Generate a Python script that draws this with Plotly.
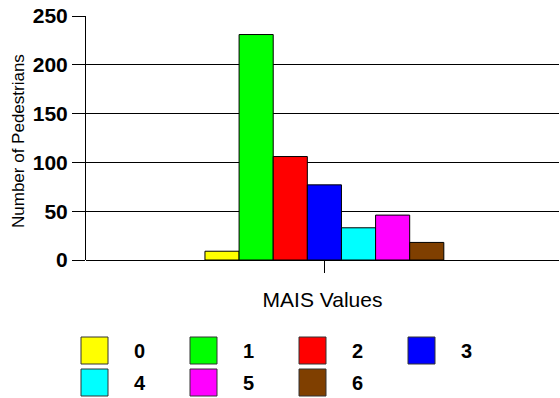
import plotly.graph_objects as go

# MAIS injury severity counts for pedestrians
mais_levels = ["0", "1", "2", "3", "4", "5", "6"]
pedestrian_counts = [9, 231, 106, 77, 33, 46, 18]
level_colors = ["#FFFF00", "#00FF00", "#FF0000", "#0000FF", "#00FFFF", "#FF00FF", "#7F3F00"]
group_label = ["MAIS"]
y_ticks = [0, 50, 100, 150, 200, 250]

FONT = "Liberation Sans, Arial, sans-serif"
W, H = 560, 398
M_L, M_R, M_T, M_B = 86, 1, 16, 138
PW, PH = W - M_L - M_R, H - M_T - M_B

fig = go.Figure()
for level, count, color in zip(mais_levels, pedestrian_counts, level_colors):
    fig.add_trace(go.Bar(
        x=group_label, y=[count], name=level,
        marker=dict(color=color, line=dict(color="black", width=1)),
        showlegend=False,
    ))


def px_to_paper(px, py):
    return (px - M_L) / PW, (H - M_B - py) / PH


# legend block: colour squares with bold labels, four per row
shapes, annotations = [], []
for i, (level, color) in enumerate(zip(mais_levels, level_colors)):
    row, col = divmod(i, 4)
    left, top = 81 + 109 * col, 337 + 32 * row
    x0, y1 = px_to_paper(left, top)
    x1, y0 = px_to_paper(left + 27, top + 27)
    shapes.append(dict(type="rect", xref="paper", yref="paper",
                       x0=x0, x1=x1, y0=y0, y1=y1,
                       fillcolor=color, line=dict(color="#333333", width=1)))
    tx, ty = px_to_paper(left + 51, top + 13.5)
    annotations.append(dict(xref="paper", yref="paper", x=tx, y=ty,
                            xanchor="left", yanchor="middle", showarrow=False,
                            text=level,
                            font=dict(family=FONT, size=20, color="black", weight="bold")))

# vertical y-axis title
ttx, tty = px_to_paper(18, 141)
annotations.append(dict(xref="paper", yref="paper", x=ttx, y=tty,
                        xanchor="center", yanchor="middle", showarrow=False,
                        textangle=-90, text="Number of Pedestrians",
                        font=dict(family=FONT, size=17, color="black")))

fig.update_layout(
    width=W, height=H,
    margin=dict(l=M_L, r=M_R, t=M_T, b=M_B, autoexpand=False),
    paper_bgcolor="white", plot_bgcolor="white",
    barmode="group", bargap=0.495, bargroupgap=0,
    showlegend=False,
    shapes=shapes, annotations=annotations,
    font=dict(family=FONT, color="black"),
)
fig.update_yaxes(
    range=[0, 250], tickvals=y_ticks,
    showgrid=True, gridcolor="black", gridwidth=1,
    zeroline=True, zerolinecolor="black", zerolinewidth=1,
    showline=True, linecolor="black", linewidth=1,
    ticks="outside", ticklen=13, tickcolor="black",
    tickfont=dict(family=FONT, size=21, color="black", weight="bold"),
    automargin=False,
)
fig.update_xaxes(
    range=[-0.504, 0.496],
    showline=False, showgrid=False,
    ticks="outside", ticklen=12, tickcolor="black",
    showticklabels=False,
    title=dict(text="MAIS Values", standoff=20,
               font=dict(family=FONT, size=21, color="black")),
    automargin=False,
)

fig.write_html("out.html")
